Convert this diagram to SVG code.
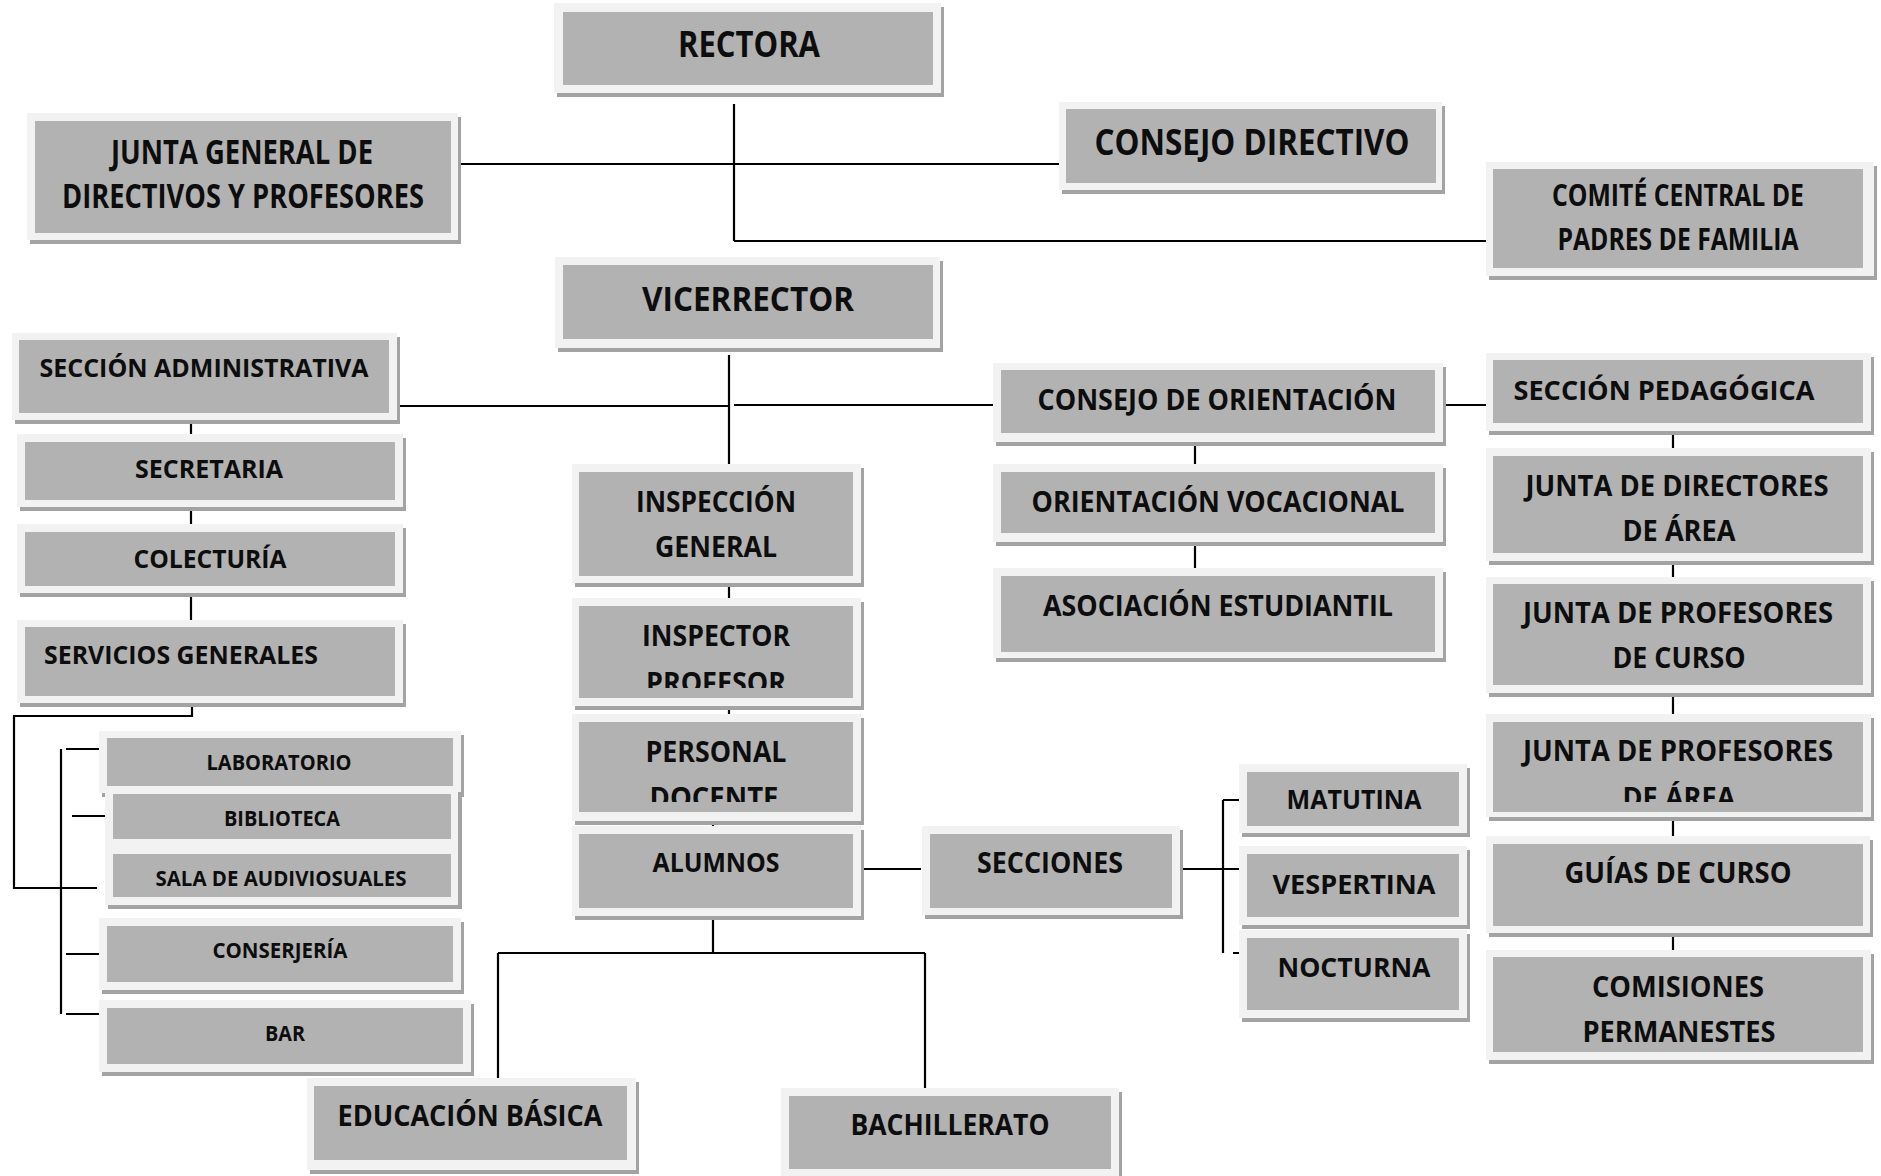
<svg xmlns="http://www.w3.org/2000/svg" width="1881" height="1176" viewBox="0 0 1881 1176">
<style>
.s{fill:#a3a3a3}
.f{fill:#f2f2f2}
.g{fill:#b2b2b2}
.t{font-family:"Open Sans","Liberation Sans",sans-serif;font-weight:700;fill:#0d0d0d;text-anchor:middle}
.c{stroke:#000;stroke-width:2.2;fill:none}
</style>
<defs>
<clipPath id="clipInsp"><rect x="579" y="606" width="274" height="82"/></clipPath>
<clipPath id="clipPers"><rect x="579" y="722" width="274" height="80"/></clipPath>
<clipPath id="clipJpa"><rect x="1493" y="722" width="370" height="80"/></clipPath>
</defs>
<rect width="1881" height="1176" fill="#fff"/>

<g id="connectors">
<path class="c" d="M734 104V241M457 164H1060M734 241H1488"/>
<path class="c" d="M729 355V464M393 406H729M734 405H997M1439 405H1489"/>
<path class="c" d="M191 417V438M191 503V528M191 591V624M192 702V716H14V888H97"/>
<path class="c" d="M61 749V1014M66 749H99M72 816H105M66 954H99M66 1014H99"/>
<path class="c" d="M729 579V603M729 702V716M713 815V830M857 869H921M713 912V953M498 953H925M498 953V1078M925 953V1088"/>
<path class="c" d="M1175 869H1244M1223 800V953M1223 800H1244M1233 953H1253"/>
<path class="c" d="M1195 437V468M1195 537V568"/>
<path class="c" d="M1673 427V452M1673 557V580M1673 688V716M1673 815V840M1673 932V954"/>
</g>

<g id="rectora"><rect class="s" x="557" y="7" width="387" height="90"/><rect class="f" x="554" y="3" width="387" height="90"/><rect class="g" x="563" y="12" width="370" height="73"/>
<text class="t" x="749" y="57" font-size="35" textLength="142" lengthAdjust="spacingAndGlyphs">RECTORA</text></g>

<g id="junta-general"><rect class="s" x="30" y="117" width="431" height="127"/><rect class="f" x="27" y="113" width="431" height="127"/><rect class="g" x="35" y="121" width="416" height="112"/>
<text class="t" x="242" y="164" font-size="34" textLength="262" lengthAdjust="spacingAndGlyphs">JUNTA GENERAL DE</text>
<text class="t" x="243" y="208" font-size="34" textLength="362" lengthAdjust="spacingAndGlyphs">DIRECTIVOS Y PROFESORES</text></g>

<g id="consejo-directivo"><rect class="s" x="1062" y="106" width="383" height="88"/><rect class="f" x="1059" y="102" width="383" height="88"/><rect class="g" x="1066" y="109" width="370" height="74"/>
<text class="t" x="1252" y="155" font-size="35" textLength="315" lengthAdjust="spacingAndGlyphs">CONSEJO DIRECTIVO</text></g>

<g id="comite"><rect class="s" x="1489" y="166" width="388" height="114"/><rect class="f" x="1486" y="162" width="388" height="114"/><rect class="g" x="1493" y="169" width="370" height="99"/>
<text class="t" x="1678" y="206" font-size="31" textLength="252" lengthAdjust="spacingAndGlyphs">COMITÉ CENTRAL DE</text>
<text class="t" x="1678" y="250" font-size="31" textLength="241" lengthAdjust="spacingAndGlyphs">PADRES DE FAMILIA</text></g>

<g id="vicerrector"><rect class="s" x="558" y="261" width="385" height="91"/><rect class="f" x="555" y="257" width="385" height="91"/><rect class="g" x="563" y="265" width="370" height="74"/>
<text class="t" x="748" y="311" font-size="34" textLength="212" lengthAdjust="spacingAndGlyphs">VICERRECTOR</text></g>

<g id="seccion-administrativa"><rect class="s" x="15" y="337" width="385" height="87"/><rect class="f" x="12" y="333" width="385" height="87"/><rect class="g" x="19" y="340" width="370" height="73"/>
<text class="t" x="204" y="377" font-size="25" textLength="329" lengthAdjust="spacingAndGlyphs">SECCIÓN ADMINISTRATIVA</text></g>

<g id="secretaria"><rect class="s" x="20" y="438" width="386" height="73"/><rect class="f" x="17" y="434" width="386" height="73"/><rect class="g" x="25" y="442" width="370" height="58"/>
<text class="t" x="209" y="478" font-size="25" textLength="148" lengthAdjust="spacingAndGlyphs">SECRETARIA</text></g>

<g id="colecturia"><rect class="s" x="20" y="528" width="386" height="69"/><rect class="f" x="17" y="524" width="386" height="69"/><rect class="g" x="25" y="532" width="370" height="54"/>
<text class="t" x="210" y="568" font-size="25" textLength="153" lengthAdjust="spacingAndGlyphs">COLECTURÍA</text></g>

<g id="servicios-generales"><rect class="s" x="20" y="624" width="386" height="83"/><rect class="f" x="17" y="620" width="386" height="83"/><rect class="g" x="25" y="627" width="370" height="69"/>
<text class="t" x="181" y="664" font-size="25" textLength="274" lengthAdjust="spacingAndGlyphs">SERVICIOS GENERALES</text></g>

<g id="laboratorio"><rect class="s" x="102" y="735" width="362" height="62"/><rect class="f" x="99" y="731" width="362" height="62"/><rect class="g" x="107" y="738" width="346" height="48"/>
<text class="t" x="279" y="770" font-size="21" textLength="145" lengthAdjust="spacingAndGlyphs">LABORATORIO</text></g>

<g id="biblioteca"><rect class="s" x="108" y="792" width="354" height="59"/><rect class="f" x="105" y="788" width="353" height="59"/><rect class="g" x="113" y="794" width="338" height="45"/>
<text class="t" x="282" y="826" font-size="21" textLength="116" lengthAdjust="spacingAndGlyphs">BIBLIOTECA</text></g>

<g id="sala-audiovisuales"><rect class="s" x="108" y="851" width="354" height="58"/><rect class="f" x="105" y="847" width="353" height="58"/><rect class="g" x="113" y="854" width="338" height="43"/>
<text class="t" x="281" y="886" font-size="21" textLength="251" lengthAdjust="spacingAndGlyphs">SALA DE AUDIVIOSUALES</text></g>

<g id="conserjeria"><rect class="s" x="102" y="922" width="362" height="72"/><rect class="f" x="99" y="918" width="362" height="72"/><rect class="g" x="107" y="926" width="346" height="56"/>
<text class="t" x="280" y="958" font-size="21" textLength="135" lengthAdjust="spacingAndGlyphs">CONSERJERÍA</text></g>

<g id="bar"><rect class="s" x="102" y="1004" width="372" height="72"/><rect class="f" x="99" y="1000" width="372" height="72"/><rect class="g" x="107" y="1008" width="356" height="56"/>
<text class="t" x="285" y="1041" font-size="21" textLength="40" lengthAdjust="spacingAndGlyphs">BAR</text></g>

<g id="inspeccion-general"><rect class="s" x="575" y="468" width="289" height="119"/><rect class="f" x="572" y="464" width="289" height="119"/><rect class="g" x="579" y="472" width="274" height="104"/>
<text class="t" x="716" y="512" font-size="28" textLength="160" lengthAdjust="spacingAndGlyphs">INSPECCIÓN</text>
<text class="t" x="716" y="557" font-size="28" textLength="122" lengthAdjust="spacingAndGlyphs">GENERAL</text></g>

<g id="inspector-profesor"><rect class="s" x="575" y="602" width="289" height="108"/><rect class="f" x="572" y="598" width="289" height="108"/><rect class="g" x="579" y="606" width="274" height="92"/>
<text class="t" x="716" y="646" font-size="28" textLength="148" lengthAdjust="spacingAndGlyphs">INSPECTOR</text>
<text class="t" x="716" y="693" font-size="28" textLength="140" lengthAdjust="spacingAndGlyphs" clip-path="url(#clipInsp)">PROFESOR</text></g>

<g id="personal-docente"><rect class="s" x="575" y="718" width="289" height="107"/><rect class="f" x="572" y="714" width="289" height="107"/><rect class="g" x="579" y="722" width="274" height="90"/>
<text class="t" x="716" y="762" font-size="28" textLength="141" lengthAdjust="spacingAndGlyphs">PERSONAL</text>
<text class="t" x="714" y="808" font-size="28" textLength="129" lengthAdjust="spacingAndGlyphs" clip-path="url(#clipPers)">DOCENTE</text></g>

<g id="alumnos"><rect class="s" x="575" y="830" width="289" height="90"/><rect class="f" x="572" y="826" width="289" height="90"/><rect class="g" x="579" y="834" width="274" height="74"/>
<text class="t" x="716" y="872" font-size="27" textLength="127" lengthAdjust="spacingAndGlyphs">ALUMNOS</text></g>

<g id="secciones"><rect class="s" x="925" y="830" width="258" height="89"/><rect class="f" x="922" y="826" width="258" height="89"/><rect class="g" x="930" y="834" width="242" height="74"/>
<text class="t" x="1050" y="873" font-size="28" textLength="146" lengthAdjust="spacingAndGlyphs">SECCIONES</text></g>

<g id="matutina"><rect class="s" x="1242" y="768" width="228" height="69"/><rect class="f" x="1239" y="764" width="228" height="69"/><rect class="g" x="1247" y="772" width="212" height="54"/>
<text class="t" x="1354" y="809" font-size="27" textLength="135" lengthAdjust="spacingAndGlyphs">MATUTINA</text></g>

<g id="vespertina"><rect class="s" x="1242" y="850" width="228" height="79"/><rect class="f" x="1239" y="846" width="228" height="79"/><rect class="g" x="1247" y="854" width="212" height="63"/>
<text class="t" x="1354" y="894" font-size="27" textLength="163" lengthAdjust="spacingAndGlyphs">VESPERTINA</text></g>

<g id="nocturna"><rect class="s" x="1242" y="934" width="228" height="88"/><rect class="f" x="1239" y="930" width="228" height="88"/><rect class="g" x="1247" y="938" width="212" height="72"/>
<text class="t" x="1354" y="977" font-size="27" textLength="153" lengthAdjust="spacingAndGlyphs">NOCTURNA</text></g>

<g id="educacion-basica"><rect class="s" x="310" y="1082" width="329" height="92"/><rect class="f" x="307" y="1078" width="329" height="92"/><rect class="g" x="314" y="1086" width="313" height="74"/>
<text class="t" x="470" y="1126" font-size="29" textLength="265" lengthAdjust="spacingAndGlyphs">EDUCACIÓN BÁSICA</text></g>

<g id="bachillerato"><rect class="s" x="784" y="1092" width="338" height="88"/><rect class="f" x="781" y="1088" width="338" height="88"/><rect class="g" x="789" y="1096" width="322" height="73"/>
<text class="t" x="950" y="1135" font-size="29" textLength="199" lengthAdjust="spacingAndGlyphs">BACHILLERATO</text></g>

<g id="consejo-orientacion"><rect class="s" x="996" y="367" width="450" height="79"/><rect class="f" x="993" y="363" width="450" height="79"/><rect class="g" x="1001" y="370" width="434" height="63"/>
<text class="t" x="1217" y="410" font-size="28" textLength="359" lengthAdjust="spacingAndGlyphs">CONSEJO DE ORIENTACIÓN</text></g>

<g id="orientacion-vocacional"><rect class="s" x="996" y="468" width="450" height="78"/><rect class="f" x="993" y="464" width="450" height="78"/><rect class="g" x="1001" y="472" width="434" height="61"/>
<text class="t" x="1218" y="512" font-size="28" textLength="373" lengthAdjust="spacingAndGlyphs">ORIENTACIÓN VOCACIONAL</text></g>

<g id="asociacion-estudiantil"><rect class="s" x="996" y="572" width="450" height="90"/><rect class="f" x="993" y="568" width="450" height="90"/><rect class="g" x="1001" y="576" width="434" height="76"/>
<text class="t" x="1218" y="616" font-size="28" textLength="350" lengthAdjust="spacingAndGlyphs">ASOCIACIÓN ESTUDIANTIL</text></g>

<g id="seccion-pedagogica"><rect class="s" x="1489" y="357" width="385" height="78"/><rect class="f" x="1486" y="353" width="385" height="78"/><rect class="g" x="1493" y="360" width="370" height="63"/>
<text class="t" x="1664" y="400" font-size="27" textLength="301" lengthAdjust="spacingAndGlyphs">SECCIÓN PEDAGÓGICA</text></g>

<g id="junta-directores"><rect class="s" x="1489" y="452" width="385" height="113"/><rect class="f" x="1486" y="448" width="385" height="113"/><rect class="g" x="1493" y="456" width="370" height="97"/>
<text class="t" x="1677" y="496" font-size="28" textLength="303" lengthAdjust="spacingAndGlyphs">JUNTA DE DIRECTORES</text>
<text class="t" x="1679" y="541" font-size="28" textLength="113" lengthAdjust="spacingAndGlyphs">DE ÁREA</text></g>

<g id="junta-profesores-curso"><rect class="s" x="1489" y="581" width="385" height="116"/><rect class="f" x="1486" y="577" width="385" height="116"/><rect class="g" x="1493" y="584" width="370" height="101"/>
<text class="t" x="1678" y="623" font-size="28" textLength="310" lengthAdjust="spacingAndGlyphs">JUNTA DE PROFESORES</text>
<text class="t" x="1679" y="668" font-size="28" textLength="133" lengthAdjust="spacingAndGlyphs">DE CURSO</text></g>

<g id="junta-profesores-area"><rect class="s" x="1489" y="718" width="385" height="103"/><rect class="f" x="1486" y="714" width="385" height="103"/><rect class="g" x="1493" y="722" width="370" height="90"/>
<text class="t" x="1678" y="761" font-size="28" textLength="310" lengthAdjust="spacingAndGlyphs">JUNTA DE PROFESORES</text>
<text class="t" x="1679" y="808" font-size="28" textLength="113" lengthAdjust="spacingAndGlyphs" clip-path="url(#clipJpa)">DE ÁREA</text></g>

<g id="guias-curso"><rect class="s" x="1489" y="840" width="384" height="97"/><rect class="f" x="1486" y="836" width="384" height="97"/><rect class="g" x="1493" y="844" width="370" height="82"/>
<text class="t" x="1678" y="883" font-size="28" textLength="227" lengthAdjust="spacingAndGlyphs">GUÍAS DE CURSO</text></g>

<g id="comisiones"><rect class="s" x="1489" y="954" width="385" height="110"/><rect class="f" x="1486" y="950" width="385" height="110"/><rect class="g" x="1493" y="957" width="370" height="95"/>
<text class="t" x="1678" y="997" font-size="28" textLength="172" lengthAdjust="spacingAndGlyphs">COMISIONES</text>
<text class="t" x="1679" y="1042" font-size="28" textLength="193" lengthAdjust="spacingAndGlyphs">PERMANESTES</text></g>
</svg>
